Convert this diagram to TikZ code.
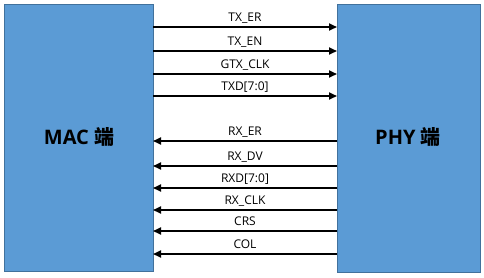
\documentclass[tikz,border=0pt]{standalone}
\usepackage{fontspec}
\setmainfont{Open Sans}
\newfontfamily\cjk{Noto Sans CJK SC}
\usetikzlibrary{arrows.meta}
\definecolor{boxfill}{HTML}{5B9BD5}
\definecolor{boxline}{HTML}{41719C}
\begin{document}
\begin{tikzpicture}[x=1pt,y=-1pt,
  blockbox/.style={draw=boxline,fill=boxfill,line width=0.8pt},
  sig/.style={line width=1.8pt,-{Triangle[length=8pt,width=7pt]}},
  lbl/.style={font=\fontsize{12}{14}\selectfont,inner sep=0pt,anchor=base},
  big/.style={font=\fontsize{20}{24}\selectfont\bfseries}]
\useasboundingbox (0,0) rectangle (484,277);
\path[blockbox] (4,4) rectangle (153,271);
\path[blockbox] (337,4) rectangle (480,272);
\node[big] (mac) at (79,137) {MAC {\cjk 端}};
\node[big] (phy) at (408,137) {PHY {\cjk 端}};
\foreach \y/\t [count=\i] in {27/TX\_ER,51/TX\_EN,74/GTX\_CLK,96/TXD[7:0]}{
  \coordinate (ta\i) at (153,\y);
  \coordinate (tb\i) at (337,\y);
  \draw[sig] (ta\i) -- (tb\i);
  \node[lbl] (tl\i) at (245,\y-6) {\t};
}
\foreach \y/\t [count=\i] in {141/RX\_ER,166/RX\_DV,188/RXD[7:0],210/RX\_CLK,231/CRS,254/COL}{
  \coordinate (ra\i) at (337,\y);
  \coordinate (rb\i) at (153,\y);
  \draw[sig] (ra\i) -- (rb\i);
  \node[lbl] (rl\i) at (245,\y-6) {\t};
}
\end{tikzpicture}
\end{document}
